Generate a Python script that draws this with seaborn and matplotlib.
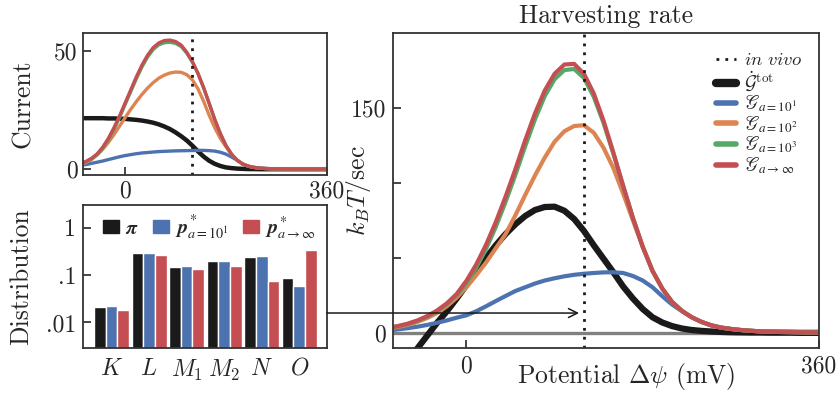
import matplotlib
matplotlib.use("Agg")
import matplotlib.pyplot as plt
from matplotlib.patches import Patch
from matplotlib.lines import Line2D
from matplotlib.ticker import NullLocator
import seaborn as sns
import pandas as pd

# potential grid (mV)
psi = list(range(-80, 361, 10))

# harvesting rate (k_B T / sec)
rate_tot = [-36, -27, -18.7, -10.2, -1.7, 6.8, 14.5, 23, 32, 41,
            50, 58.5, 66, 72.5, 78, 82, 84, 84.2, 81.5, 76,
            68, 58.5, 49.5, 40.5, 31, 23, 16, 10.5, 7, 4.6,
            3.0, 2.0, 1.4, 1.0, 0.7, 0.5, 0.4, 0.3, 0.3, 0.2,
            0.2, 0.2, 0.1, 0.1, 0.1]
rate_a1 = [1.7, 2.4, 3.2, 4.2, 5.4, 6.8, 8.4, 10.2, 11.8, 14.5,
           17.8, 21.3, 24.7, 28.0, 30.5, 33.0, 35.0, 36.5, 37.8, 38.8,
           39.5, 40.0, 40.4, 40.5, 40.0, 38.0, 35.0, 30.5, 24.5, 19.0,
           14.5, 10.5, 7.4, 5.1, 3.6, 2.7, 2.0, 1.5, 1.1, 0.9,
           0.7, 0.6, 0.5, 0.4, 0.3]
rate_a2 = [2.9, 4.0, 5.4, 7.4, 10.0, 13.3, 17.8, 23.5, 30.5, 38.5,
           47.0, 56.5, 66.0, 78.5, 92.0, 105.0, 117.0, 127.5, 134.5, 138.0,
           138.5, 133.5, 123.5, 110.0, 93.0, 75.0, 57.5, 41.4, 29.6, 20.7,
           14.8, 10.5, 7.4, 5.1, 3.6, 2.7, 2.0, 1.5, 1.1, 0.9,
           0.7, 0.6, 0.5, 0.4, 0.3]
rate_a3 = [3.3, 4.5, 6.0, 8.1, 10.9, 14.5, 19.2, 25.0, 33.2, 43.5,
           56.0, 70.8, 87.5, 105.5, 124.5, 142.5, 158.0, 169.2, 175.3, 176.0,
           170.0, 157.5, 140.0, 119.6, 98.0, 76.7, 57.5, 41.4, 29.6, 20.7,
           14.8, 10.5, 7.4, 5.1, 3.6, 2.7, 2.0, 1.5, 1.1, 0.9,
           0.7, 0.6, 0.5, 0.4, 0.3]
rate_inf = [3.4, 4.6, 6.2, 8.4, 11.3, 15.0, 19.8, 26.0, 34.8, 45.7,
            58.8, 74.0, 91.0, 109.2, 128.5, 146.4, 161.7, 172.8, 179.0, 179.4,
            172.8, 159.7, 141.5, 120.3, 98.1, 76.7, 57.5, 41.4, 29.6, 20.7,
            14.8, 10.5, 7.4, 5.1, 3.6, 2.7, 2.0, 1.5, 1.1, 0.9,
            0.7, 0.6, 0.5, 0.4, 0.3]

# current
cur_tot = [21.6, 21.6, 21.6, 21.6, 21.6, 21.5, 21.5, 21.4, 21.3, 21.1,
           20.9, 20.6, 20.2, 19.7, 19.0, 18.1, 17.0, 15.6, 14.0, 12.2,
           10.0, 7.6, 5.4, 3.6, 2.3, 1.4, 0.8, 0.5, 0.3, 0.2,
           0.1, 0.1, 0.05, 0.05, 0.05, 0.05, 0.05, 0.05, 0.05, 0.05,
           0.05, 0.05, 0.05, 0.05, 0.05]
cur_a1 = [1.7, 2.0, 2.5, 3.0, 3.5, 4.1, 4.7, 5.3, 5.8, 6.2,
          6.6, 6.9, 7.1, 7.3, 7.5, 7.6, 7.7, 7.8, 7.85, 7.9,
          7.95, 8.0, 8.0, 7.9, 7.7, 7.2, 6.4, 5.2, 3.8, 2.2,
          1.3, 0.8, 0.5, 0.35, 0.25, 0.2, 0.15, 0.1, 0.1, 0.1,
          0.1, 0.1, 0.1, 0.1, 0.1]
cur_a2 = [2.0, 2.9, 4.1, 6.0, 8.4, 11.3, 14.6, 18.2, 21.8, 25.3,
          28.6, 31.6, 34.3, 36.6, 38.5, 39.8, 40.7, 41.1, 41.0, 40.0,
          37.8, 34.0, 28.8, 22.8, 17.5, 13.0, 9.5, 6.3, 3.8, 2.2,
          1.3, 0.8, 0.5, 0.35, 0.25, 0.2, 0.15, 0.1, 0.1, 0.1,
          0.1, 0.1, 0.1, 0.1, 0.1]
cur_a3 = [2.3, 3.2, 4.4, 6.2, 8.9, 12.4, 16.8, 21.8, 27.3, 32.8,
          38.2, 43.2, 47.4, 50.6, 52.6, 53.5, 53.7, 53.2, 51.9, 49.1,
          45.3, 40.5, 34.5, 27.8, 21.0, 15.0, 10.0, 6.3, 3.8, 2.2,
          1.3, 0.8, 0.5, 0.35, 0.25, 0.2, 0.15, 0.1, 0.1, 0.1,
          0.1, 0.1, 0.1, 0.1, 0.1]
cur_inf = [2.4, 3.3, 4.6, 6.5, 9.3, 13.0, 17.5, 22.5, 28.0, 33.5,
           39.0, 44.0, 48.2, 51.4, 53.4, 54.4, 54.6, 54.0, 52.5, 49.5,
           45.5, 40.5, 34.5, 27.8, 21.0, 15.0, 10.0, 6.3, 3.8, 2.2,
           1.3, 0.8, 0.5, 0.35, 0.25, 0.2, 0.15, 0.1, 0.1, 0.1,
           0.1, 0.1, 0.1, 0.1, 0.1]

in_vivo = 120

# stationary distributions
states = ["$K$", "$L$", "$M_1$", "$M_2$", "$N$", "$O$"]
pi_stat = [0.0208, 0.299, 0.150, 0.200, 0.243, 0.088]
p_a1 = [0.0218, 0.299, 0.157, 0.200, 0.255, 0.060]
p_inf = [0.0186, 0.267, 0.136, 0.157, 0.076, 0.341]

sns.set_theme(style="ticks", rc={
    "xtick.direction": "in", "ytick.direction": "in",
    "xtick.major.size": 6, "ytick.major.size": 6,
    "xtick.major.width": 1.2, "ytick.major.width": 1.2,
    "axes.linewidth": 1.3, "axes.edgecolor": ".2",
})
plt.rcParams["font.family"] = ["cmr10", "DejaVu Serif"]
plt.rcParams["mathtext.fontset"] = "cm"
plt.rcParams["axes.formatter.use_mathtext"] = True

pal = sns.color_palette("deep")
blue, orange, green, red = pal[0], pal[1], pal[2], pal[3]
dots = (0, (1, 2.2))

W, H = 838, 393
fig = plt.figure(figsize=(W / 100, H / 100), dpi=100)

# ---- current ----
ax_c = fig.add_axes([83 / W, 1 - 175 / H, 244 / W, 142 / H])
for y, c, lw in [(cur_tot, "k", 3.2), (cur_a1, blue, 2.4), (cur_a2, orange, 2.4),
                 (cur_a3, green, 2.4), (cur_inf, red, 2.4)]:
    sns.lineplot(x=psi, y=y, color=c, lw=lw, ax=ax_c)
ax_c.axvline(in_vivo, color="k", ls=dots, lw=2)
ax_c.set_xlim(-75, 360)
ax_c.set_ylim(-2.4, 57.6)
ax_c.set_xticks([0, 360], ["0", "360"])
ax_c.set_yticks([0, 50], ["0", "50"])
ax_c.tick_params(labelsize=17, pad=4)
ax_c.set_ylabel("Current", fontsize=18.5)
ax_c.yaxis.set_label_coords(-0.197, 0.5)

# ---- distribution ----
ax_b = fig.add_axes([83 / W, 1 - 348 / H, 244 / W, 143 / H])
ax_b.set_yscale("log")
df = pd.DataFrame({"state": states * 3,
                   "prob": pi_stat + p_a1 + p_inf,
                   "dist": ["pi"] * 6 + ["a1"] * 6 + ["inf"] * 6})
sns.barplot(data=df, x="state", y="prob", hue="dist", palette=["k", blue, red],
            width=0.93, gap=0, saturation=1, errorbar=None, legend=False, ax=ax_b)
ax_b.set_xlim(-0.76, 5.74)
ax_b.set_ylim(0.0029, 3.0)
ax_b.set_yticks([1, 0.1, 0.01], ["1", ".1", ".01"])
ax_b.yaxis.set_minor_locator(NullLocator())
ax_b.tick_params(axis="x", length=0, pad=7, labelsize=17)
ax_b.tick_params(axis="y", labelsize=17, pad=5)
ax_b.set_xlabel("")
ax_b.set_ylabel("Distribution", fontsize=18.5)
ax_b.yaxis.set_label_coords(-0.205, 0.5)
leg_b = ax_b.legend(
    [Patch(color="k"), Patch(color=blue), Patch(color=red)],
    [r"$\boldsymbol{\pi}$", r"$\boldsymbol{p}^*_{a=10^1}$", r"$\boldsymbol{p}^*_{a\to\infty}$"],
    ncol=3, loc="upper center", bbox_to_anchor=(0.52, 1.03), frameon=False,
    handlelength=0.8, handleheight=0.6, handletextpad=0.3, columnspacing=0.7,
    fontsize=14.5, borderaxespad=0.2)
for t in leg_b.get_texts():
    t.set_math_fontfamily("stix")

# ---- harvesting rate ----
ax_r = fig.add_axes([393 / W, 1 - 348 / H, 426 / W, 315 / H])
ax_r.axhline(0, color="#808080", lw=2.4)
sns.lineplot(x=psi, y=rate_tot, color="k", lw=4.5, ax=ax_r)
for y, c in [(rate_a1, blue), (rate_a2, orange), (rate_a3, green), (rate_inf, red)]:
    sns.lineplot(x=psi, y=y, color=c, lw=3, ax=ax_r)
ax_r.axvline(in_vivo, color="k", ls=dots, lw=2)
ax_r.set_xlim(-75, 360)
ax_r.set_ylim(-10, 200)
ax_r.set_xticks([0, 360], ["0", "360"])
ax_r.set_yticks([0, 50, 100, 150], ["0", "", "", "150"])
ax_r.tick_params(labelsize=17, pad=5)
ax_r.set_title("Harvesting rate", fontsize=18.5, pad=7)
ax_r.set_xlabel(r"Potential $\Delta\psi$ (mV)", fontsize=18.5)
ax_r.xaxis.set_label_coords(0.548, -0.04)
ax_r.set_ylabel(r"$k_BT/\mathrm{sec}$", fontsize=18.5)
ax_r.yaxis.set_label_coords(-0.047, 0.5)

handles = [Line2D([], [], color="k", ls=dots, lw=2),
           Line2D([], [], color="k", lw=6, solid_capstyle="round"),
           Line2D([], [], color=blue, lw=4, solid_capstyle="round"),
           Line2D([], [], color=orange, lw=4, solid_capstyle="round"),
           Line2D([], [], color=green, lw=4, solid_capstyle="round"),
           Line2D([], [], color=red, lw=4, solid_capstyle="round")]
labels = [r"$\mathit{in\ vivo}$", r"$\dot{\mathcal{G}}^{\mathrm{tot}}$",
          r"$\mathscr{G}_{a=10^1}$", r"$\mathscr{G}_{a=10^2}$",
          r"$\mathscr{G}_{a=10^3}$", r"$\mathscr{G}_{a\to\infty}$"]
leg_r = ax_r.legend(handles, labels, loc="upper left", bbox_to_anchor=(0.74, 0.965),
                    frameon=False, fontsize=13.5, handlelength=1.1, handletextpad=0.4,
                    labelspacing=0.0, borderaxespad=0)
for t in leg_r.get_texts()[2:]:
    t.set_math_fontfamily("stix")

# arrow from the distribution panel into the rate panel
ax_r.annotate("", xy=(115, 13.3), xycoords="data",
              xytext=(327 / W, 1 - 313 / H), textcoords="figure fraction",
              arrowprops=dict(arrowstyle="->", color="k", lw=1.1,
                              shrinkA=0, shrinkB=0, mutation_scale=16),
              annotation_clip=False)

fig.savefig("out.png", dpi=100)
